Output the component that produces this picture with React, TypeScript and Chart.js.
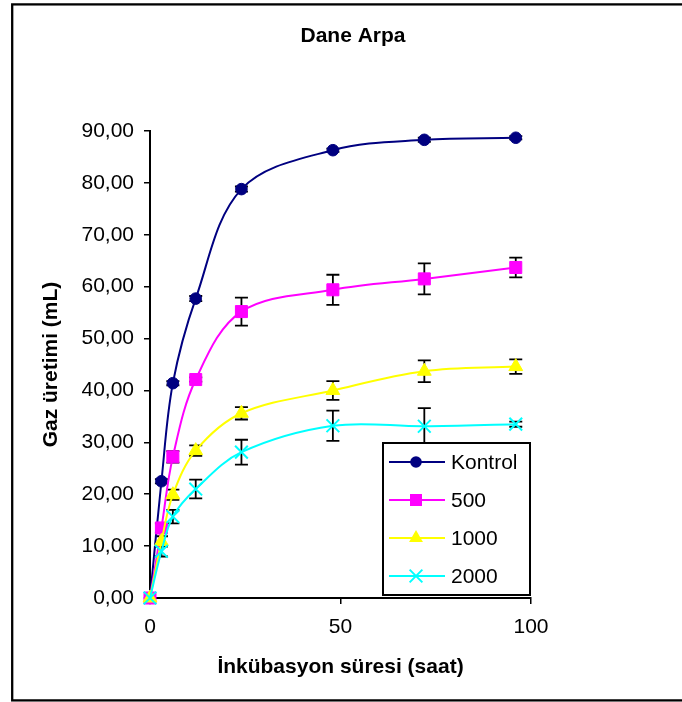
import { useEffect, useRef } from 'react';
import { Chart, registerables } from 'chart.js';

Chart.register(...registerables);

const chartTitle = 'Dane Arpa';
const xAxisTitle = 'İnkübasyon süresi (saat)';
const yAxisTitle = 'Gaz üretimi (mL)';

const hours = [0, 3, 6, 12, 24, 48, 72, 96];
const seriesLabels = ['Kontrol', '500', '1000', '2000'];

const kontrolValues = [0, 22.5, 41.4, 57.7, 78.8, 86.3, 88.3, 88.7];
const v500Values = [0, 13.5, 27.2, 42.1, 55.2, 59.4, 61.5, 63.7];
const v1000Values = [0, 10.9, 19.9, 28.4, 35.6, 40.0, 43.7, 44.6];
const v2000Values = [0, 9.0, 15.7, 21.0, 28.1, 33.2, 33.1, 33.5];

const kontrolErrors = [0, 0.4, 0.4, 0.5, 0.5, 0.3, 0.4, 0.3];
const v500Errors = [0, 0.9, 1.1, 0.4, 2.7, 2.9, 3.0, 1.9];
const v1000Errors = [0, 1.0, 1.0, 1.0, 1.2, 1.8, 2.1, 1.4];
const v2000Errors = [0, 1.0, 1.3, 1.8, 2.4, 2.9, 3.5, 0.5];

const seriesValues = [kontrolValues, v500Values, v1000Values, v2000Values];
const seriesErrors = [kontrolErrors, v500Errors, v1000Errors, v2000Errors];
const seriesColors = ['#000080', '#FF00FF', '#FFFF00', '#00FFFF'];
const seriesPointStyles = ['circle', 'rect', 'triangle', 'crossRot'];
const seriesPointRadii = [5.8, 8.5, 8, 9];

const xMin = 0;
const xMax = 100;
const xStep = 50;
const yMin = 0;
const yMax = 90;
const yStep = 10;

const FONT = 'Arial, "Liberation Sans", sans-serif';

function drawMarker(ctx: CanvasRenderingContext2D, style: string, x: number, y: number, r: number, color: string) {
  ctx.save();
  ctx.fillStyle = color;
  ctx.strokeStyle = color;
  ctx.beginPath();
  if (style === 'circle') {
    ctx.arc(x, y, r, 0, Math.PI * 2);
    ctx.fill();
  } else if (style === 'rect') {
    const s = Math.SQRT1_2 * r;
    ctx.rect(x - s, y - s, 2 * s, 2 * s);
    ctx.fill();
  } else if (style === 'triangle') {
    let a = 0;
    ctx.moveTo(x + Math.sin(a) * r, y - Math.cos(a) * r);
    a += (2 * Math.PI) / 3;
    ctx.lineTo(x + Math.sin(a) * r, y - Math.cos(a) * r);
    a += (2 * Math.PI) / 3;
    ctx.lineTo(x + Math.sin(a) * r, y - Math.cos(a) * r);
    ctx.closePath();
    ctx.fill();
  } else {
    const d = Math.SQRT1_2 * r;
    ctx.lineWidth = 2;
    ctx.moveTo(x - d, y - d);
    ctx.lineTo(x + d, y + d);
    ctx.moveTo(x - d, y + d);
    ctx.lineTo(x + d, y - d);
    ctx.stroke();
  }
  ctx.restore();
}

const decorPlugin = {
  id: 'decor',
  beforeDatasetsDraw(chart: any) {
    const ctx = chart.ctx as CanvasRenderingContext2D;
    const xs = chart.scales.x;
    const ys = chart.scales.y;
    ctx.save();
    ctx.strokeStyle = '#000';
    ctx.lineWidth = 1.8;
    seriesValues.forEach((vals, i) => {
      vals.forEach((v, j) => {
        const e = seriesErrors[i][j];
        if (!e) return;
        const x = xs.getPixelForValue(hours[j]);
        const y1 = ys.getPixelForValue(v + e);
        const y2 = ys.getPixelForValue(v - e);
        ctx.beginPath();
        ctx.moveTo(x, y1);
        ctx.lineTo(x, y2);
        ctx.moveTo(x - 6.5, y1);
        ctx.lineTo(x + 6.5, y1);
        ctx.moveTo(x - 6.5, y2);
        ctx.lineTo(x + 6.5, y2);
        ctx.stroke();
      });
    });
    ctx.restore();
  },
  afterDatasetsDraw(chart: any) {
    const ctx = chart.ctx as CanvasRenderingContext2D;
    const bx = 383, by = 443, bw = 147, bh = 152;
    ctx.save();
    ctx.fillStyle = '#fff';
    ctx.fillRect(bx, by, bw, bh);
    ctx.strokeStyle = '#000';
    ctx.lineWidth = 2;
    ctx.strokeRect(bx, by, bw, bh);
    chart.data.datasets.forEach((ds: any, i: number) => {
      const y = 462 + i * 38;
      ctx.strokeStyle = seriesColors[i];
      ctx.lineWidth = 2;
      ctx.beginPath();
      ctx.moveTo(389, y);
      ctx.lineTo(445, y);
      ctx.stroke();
      drawMarker(ctx, seriesPointStyles[i], 416, y, seriesPointRadii[i], seriesColors[i]);
      ctx.fillStyle = '#000';
      ctx.font = `21px ${FONT}`;
      ctx.textAlign = 'left';
      ctx.textBaseline = 'middle';
      ctx.fillText(ds.label, 451, y + 1);
    });
    ctx.restore();
  },
  afterDraw(chart: any) {
    const ctx = chart.ctx as CanvasRenderingContext2D;
    ctx.save();
    ctx.fillStyle = '#000';
    ctx.font = `bold 21px ${FONT}`;
    ctx.textAlign = 'center';
    ctx.textBaseline = 'alphabetic';
    ctx.fillText(chartTitle, 353, 41.5);
    ctx.strokeStyle = '#000';
    ctx.lineWidth = 2.3;
    ctx.strokeRect(12.2, 4.4, 720, 696);
    ctx.restore();
  },
};

export default function App() {
  const ref = useRef<HTMLCanvasElement | null>(null);

  useEffect(() => {
    if (!ref.current) return;
    const datasets = seriesLabels.map((label, i) => ({
      label,
      data: hours.map((h, j) => ({ x: h, y: seriesValues[i][j] })),
      borderColor: seriesColors[i],
      backgroundColor: seriesColors[i],
      borderWidth: 2,
      pointStyle: seriesPointStyles[i],
      pointRadius: seriesPointRadii[i],
      pointHoverRadius: seriesPointRadii[i],
      pointBackgroundColor: seriesColors[i],
      pointBorderColor: seriesColors[i],
      pointBorderWidth: i === 3 ? 2 : 1,
      tension: 0.35,
      fill: false,
      clip: false as any,
      order: seriesLabels.length - i,
    }));

    const chart = new Chart(ref.current, {
      type: 'line',
      data: { datasets },
      options: {
        responsive: false,
        animation: false,
        devicePixelRatio: 1,
        layout: { padding: { left: 20, right: 151, top: 131, bottom: 20 } },
        plugins: {
          legend: { display: false },
          title: { display: false },
          tooltip: { enabled: false },
        },
        scales: {
          x: {
            type: 'linear',
            min: xMin,
            max: xMax,
            afterFit: (s: any) => {
              s.height = 84;
            },
            ticks: {
              stepSize: xStep,
              color: '#000',
              font: { family: FONT, size: 21 },
              padding: 11,
              maxRotation: 0,
            },
            grid: {
              drawOnChartArea: false,
              drawTicks: true,
              tickLength: 6,
              color: '#000',
              lineWidth: 1.5,
            },
            border: { display: true, color: '#000', width: 2 },
            title: {
              display: true,
              text: xAxisTitle,
              color: '#000',
              font: { family: FONT, size: 21, weight: 'bold' },
              padding: { top: 0, bottom: 2 },
            },
          },
          y: {
            type: 'linear',
            min: yMin,
            max: yMax,
            afterFit: (s: any) => {
              s.width = 130;
            },
            ticks: {
              stepSize: yStep,
              color: '#000',
              font: { family: FONT, size: 21 },
              padding: 10,
              callback: (v: any) => Number(v).toFixed(2).replace('.', ','),
            },
            grid: {
              drawOnChartArea: false,
              drawTicks: true,
              tickLength: 6,
              color: '#000',
              lineWidth: 1.5,
            },
            border: { display: true, color: '#000', width: 2 },
            title: {
              display: true,
              text: yAxisTitle,
              color: '#000',
              font: { family: FONT, size: 21, weight: 'bold' },
              padding: { top: 19, bottom: 0 },
            },
          },
        },
      },
      plugins: [decorPlugin],
    });
    return () => chart.destroy();
  }, []);

  return (
    <div style={{ position: 'absolute', left: 0, top: 0, width: 682, height: 702, background: '#fff' }}>
      <canvas ref={ref} width={682} height={702} style={{ display: 'block', width: 682, height: 702 }} />
    </div>
  );
}
